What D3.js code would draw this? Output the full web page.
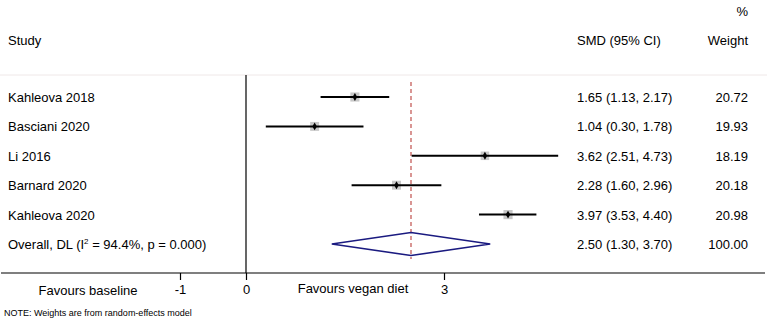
<!DOCTYPE html>
<html>
<head>
<meta charset="utf-8">
<script src="https://cdn.jsdelivr.net/npm/d3@7"></script>
<style>
  body { margin: 0; background: #fff; }
  text { font-family: "Liberation Sans", Arial, sans-serif; fill: #000; }
</style>
</head>
<body>
<svg width="767" height="321"></svg>
<script>
var studies = ["Kahleova 2018", "Basciani 2020", "Li 2016", "Barnard 2020", "Kahleova 2020"];
var smd = [1.65, 1.04, 3.62, 2.28, 3.97];
var lower = [1.13, 0.30, 2.51, 1.60, 3.53];
var upper = [2.17, 1.78, 4.73, 2.96, 4.40];
var weights = [20.72, 19.93, 18.19, 20.18, 20.98];
var overall = { label: "Overall, DL", i2: "94.4%", p: "0.000", est: 2.50, lo: 1.30, hi: 3.70, w: 100.00 };
var ticks = [-1, 0, 3];

var svg = d3.select("svg");

var x = d3.scaleLinear().domain([-1, 3]).range([180, 444]);
var rows = studies.concat(["overall"]);
var y = d3.scalePoint().domain(d3.range(rows.length)).range([97, 244]);
var boxSize = d3.scaleSqrt().domain([0, 25]).range([0, 10]);

var data = studies.map(function(s, i) {
  return { study: s, est: smd[i], lo: lower[i], hi: upper[i], w: weights[i], i: i };
});

// headers
svg.append("text").attr("x", 748).attr("y", 16).attr("text-anchor", "end")
  .style("font-size", "13px").text("%");
svg.append("text").attr("x", 8).attr("y", 45).style("font-size", "13px").text("Study");
svg.append("text").attr("x", 577).attr("y", 45).style("font-size", "13px").text("SMD (95% CI)");
svg.append("text").attr("x", 748).attr("y", 45).attr("text-anchor", "end")
  .style("font-size", "13px").text("Weight");

// faint separator
svg.append("line").attr("x1", 0).attr("x2", 767).attr("y1", 75).attr("y2", 75)
  .attr("stroke", "#efe8e8").attr("stroke-width", 1);

// null line
svg.append("line").attr("x1", x(0)).attr("x2", x(0)).attr("y1", 75).attr("y2", 273)
  .attr("stroke", "#000").attr("stroke-width", 1.2);

// overall dashed line
svg.append("line").attr("x1", x(overall.est)).attr("x2", x(overall.est))
  .attr("y1", 82).attr("y2", 259)
  .attr("stroke", "#c0504d").attr("stroke-width", 1.2).attr("stroke-dasharray", "4,3");

// axis
var axis = svg.append("g").attr("transform", "translate(0,273)")
  .call(d3.axisBottom(x).tickValues(ticks).tickSize(7).tickFormat(function(d) { return String(d); }));
axis.select(".domain").remove();
axis.selectAll("line").attr("stroke", "#000").attr("stroke-width", 1.2);
axis.selectAll("text").attr("y", 12).style("font-size", "13px")
  .style("font-family", "Liberation Sans, Arial, sans-serif").attr("fill", "#000");
svg.append("line").attr("x1", 1).attr("x2", 765).attr("y1", 273).attr("y2", 273)
  .attr("stroke", "#000").attr("stroke-width", 1.2);

svg.append("text").attr("x", 88).attr("y", 295).attr("text-anchor", "middle")
  .style("font-size", "13px").text("Favours baseline");
svg.append("text").attr("x", 353).attr("y", 293).attr("text-anchor", "middle")
  .style("font-size", "13px").text("Favours vegan diet");

// study rows
var g = svg.selectAll(".study").data(data).enter().append("g").attr("class", "study");
g.append("text").attr("x", 8).attr("y", function(d) { return y(d.i) + 5; })
  .style("font-size", "13px").text(function(d) { return d.study; });
g.append("rect")
  .attr("x", function(d) { return x(d.est) - boxSize(d.w) / 2; })
  .attr("y", function(d) { return y(d.i) - boxSize(d.w) / 2; })
  .attr("width", function(d) { return boxSize(d.w); })
  .attr("height", function(d) { return boxSize(d.w); })
  .attr("fill", "#c8c8c8");
g.append("line")
  .attr("x1", function(d) { return x(d.lo); })
  .attr("x2", function(d) { return x(d.hi); })
  .attr("y1", function(d) { return y(d.i); })
  .attr("y2", function(d) { return y(d.i); })
  .attr("stroke", "#000").attr("stroke-width", 2);
g.append("path")
  .attr("d", d3.symbol().type(d3.symbolDiamond).size(18))
  .attr("transform", function(d) { return "translate(" + x(d.est) + "," + y(d.i) + ")"; })
  .attr("fill", "#000");
g.append("text").attr("x", 577).attr("y", function(d) { return y(d.i) + 5; })
  .style("font-size", "13px")
  .text(function(d) { return d.est.toFixed(2) + " (" + d.lo.toFixed(2) + ", " + d.hi.toFixed(2) + ")"; });
g.append("text").attr("x", 748).attr("y", function(d) { return y(d.i) + 5; })
  .attr("text-anchor", "end").style("font-size", "13px")
  .text(function(d) { return d.w.toFixed(2); });

// overall row
var oy = y(rows.length - 1);
var ot = svg.append("text").attr("x", 8).attr("y", oy + 5).style("font-size", "13px");
ot.append("tspan").text(overall.label + " (I");
ot.append("tspan").attr("dy", -5).style("font-size", "8px").text("2");
ot.append("tspan").attr("dy", 5).text(" = " + overall.i2 + ", p = " + overall.p + ")");

svg.append("path")
  .attr("d", "M" + x(overall.lo) + "," + oy + "L" + x(overall.est) + "," + (oy - 11.5) +
    "L" + x(overall.hi) + "," + oy + "L" + x(overall.est) + "," + (oy + 11.5) + "Z")
  .attr("fill", "none").attr("stroke", "#1a1a80").attr("stroke-width", 1.6);

svg.append("text").attr("x", 577).attr("y", oy + 5).style("font-size", "13px")
  .text(overall.est.toFixed(2) + " (" + overall.lo.toFixed(2) + ", " + overall.hi.toFixed(2) + ")");
svg.append("text").attr("x", 748).attr("y", oy + 5).attr("text-anchor", "end")
  .style("font-size", "13px").text(overall.w.toFixed(2));

svg.append("text").attr("x", 4).attr("y", 316).style("font-size", "9px")
  .text("NOTE: Weights are from random-effects model");
</script>
</body>
</html>
